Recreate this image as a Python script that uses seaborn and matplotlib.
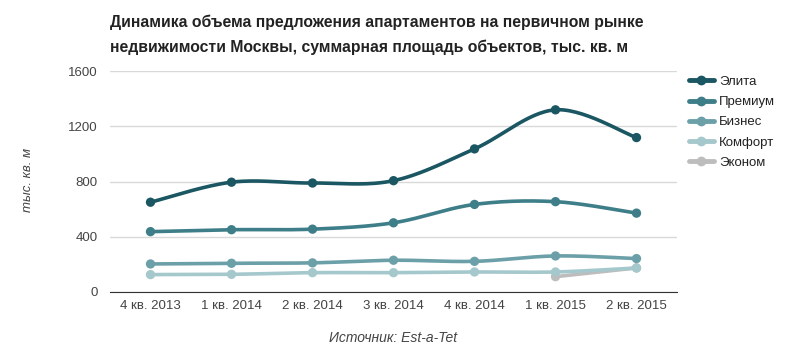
import numpy as np
import pandas as pd
import seaborn as sns
import matplotlib.pyplot as plt

# Data
quarters = ["4 кв. 2013", "1 кв. 2014", "2 кв. 2014", "3 кв. 2014",
            "4 кв. 2014", "1 кв. 2015", "2 кв. 2015"]
elita = [650, 795, 789, 806, 1036, 1319, 1118]
premium = [437, 451, 455, 501, 634, 654, 571]
biznes = [203, 208, 211, 230, 222, 261, 242]
komfort = [126, 128, 140, 140, 145, 145, 174]
ekonom = [None, None, None, None, None, 111, 174]

series = {"Элита": elita, "Премиум": premium, "Бизнес": biznes,
          "Комфорт": komfort, "Эконом": ekonom}
colors = {"Элита": "#1b5663", "Премиум": "#3e7e89", "Бизнес": "#6ca0a9",
          "Комфорт": "#a5c8cc", "Эконом": "#bdbdbd"}

rows = []
for name, vals in series.items():
    for i, v in enumerate(vals):
        if v is not None:
            rows.append({"series": name, "pos": i, "value": v})
df = pd.DataFrame(rows)


def smooth(x, y, n=30, k=0.5):
    # cardinal-spline style smoothing for drawing only
    x = np.asarray(x, float)
    y = np.asarray(y, float)
    if len(x) < 3:
        return x, y
    xs, ys = [], []
    for i in range(len(x) - 1):
        p0 = (x[i - 1], y[i - 1]) if i > 0 else (x[i], y[i])
        p1 = (x[i], y[i])
        p2 = (x[i + 1], y[i + 1])
        p3 = (x[i + 2], y[i + 2]) if i + 2 < len(x) else (x[i + 1], y[i + 1])
        m1 = ((p2[0] - p0[0]) * k, (p2[1] - p0[1]) * k)
        m2 = ((p3[0] - p1[0]) * k, (p3[1] - p1[1]) * k)
        t = np.linspace(0, 1, n, endpoint=False)
        h00 = 2 * t**3 - 3 * t**2 + 1
        h10 = t**3 - 2 * t**2 + t
        h01 = -2 * t**3 + 3 * t**2
        h11 = t**3 - t**2
        xs.append(h00 * p1[0] + h10 * m1[0] + h01 * p2[0] + h11 * m2[0])
        ys.append(h00 * p1[1] + h10 * m1[1] + h01 * p2[1] + h11 * m2[1])
    xs.append([x[-1]])
    ys.append([y[-1]])
    return np.concatenate(xs), np.concatenate(ys)


sns.set_style("white")
plt.rcParams["font.family"] = ["Liberation Sans", "DejaVu Sans"]

fig = plt.figure(figsize=(8, 3.59), dpi=100)
ax = fig.add_axes([110 / 800, 1 - 292 / 359, (677 - 110) / 800, (292 - 71) / 359])

order = ["Эконом", "Комфорт", "Бизнес", "Премиум", "Элита"]
for name in order:
    sub = df[df["series"] == name]
    sx, sy = smooth(sub["pos"], sub["value"])
    ax.plot(sx, sy, color=colors[name], lw=2.6, solid_capstyle="round", zorder=3)
    sns.scatterplot(data=sub, x="pos", y="value", color=colors[name], s=45,
                    edgecolor="none", ax=ax, zorder=4, legend=False)

ax.set_xlim(-0.5, len(quarters) - 0.5)
ax.set_ylim(0, 1600)
ax.set_yticks([0, 400, 800, 1200, 1600])
ax.set_xticks(range(len(quarters)))
ax.set_xticklabels(quarters)
ax.tick_params(axis="both", length=0, labelsize=9.5, colors="#444444")
ax.tick_params(axis="x", pad=6)
ax.tick_params(axis="y", pad=9)
ax.grid(axis="y", color="#d9d9d9", lw=1)
ax.set_axisbelow(True)
for s in ["top", "right", "left"]:
    ax.spines[s].set_visible(False)
ax.spines["bottom"].set_color("#333333")
ax.set_xlabel("")
ax.set_ylabel("")

fig.text(28 / 800, 1 - 180 / 359, "тыс. кв. м", rotation=90, style="italic",
         fontsize=9.5, color="#444444", ha="center", va="center")
fig.text(393 / 800, 1 - 338 / 359, "Источник: Est-a-Tet", style="italic",
         fontsize=10, color="#444444", ha="center", va="center")

fig.text(110 / 800, 1 - 35 / 359,
         "Динамика объема предложения апартаментов на первичном рынке\n"
         "недвижимости Москвы, суммарная площадь объектов, тыс. кв. м",
         fontsize=11.3, fontweight="bold", color="#222222", ha="left", va="center",
         linespacing=1.75)

# legend
handles = [plt.Line2D([], [], color=colors[n], lw=3.5, marker="o", markersize=6)
           for n in series]
fig.legend(handles, list(series.keys()), loc="upper left",
           bbox_to_anchor=(677 / 800, 1 - 64 / 359), frameon=False,
           fontsize=9.5, handlelength=1.9, handletextpad=0.4,
           labelspacing=0.6, labelcolor="#222222")

fig.savefig("out.png", dpi=100)
